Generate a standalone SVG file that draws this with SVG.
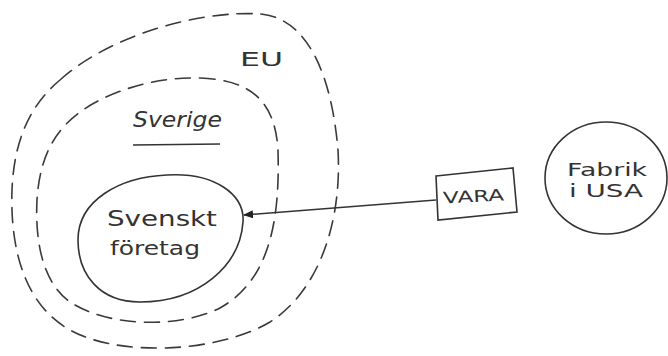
<svg xmlns="http://www.w3.org/2000/svg" width="668" height="356" viewBox="0 0 668 356">
  <style>
    .dash { fill: none; stroke: #3a3a3a; stroke-width: 1.6; stroke-dasharray: 15 9; stroke-linecap: round; }
    .solid { fill: none; stroke: #333; stroke-width: 1.6; }
    .hand { font-family: "DejaVu Sans", "Liberation Sans", sans-serif; fill: #333; }
    .conn { fill: none; stroke: #333; stroke-width: 1.5; }
  </style>
  <defs>
    <marker id="arrow" viewBox="0 0 10 8" refX="9" refY="4" markerWidth="10" markerHeight="8" markerUnits="userSpaceOnUse" orient="auto">
      <path d="M0,0 L10,4 L0,8 Z" fill="#222"/>
    </marker>
  </defs>
  <rect width="668" height="356" fill="#fff"/>

  <!-- EU boundary -->
  <g id="eu">
    <path class="dash" d="M60,80 C110,35 200,10 260,14 C310,18 332,80 338,150 C342,220 320,290 270,322 C220,352 120,358 70,330 C25,305 10,250 12,190 C14,140 30,105 60,80 Z"/>
    <text class="hand" x="240" y="66" font-size="19" textLength="43" lengthAdjust="spacingAndGlyphs">EU</text>
  </g>

  <!-- Sverige boundary -->
  <g id="sverige">
    <path class="dash" d="M200,78 C250,80 275,100 278,150 C280,220 270,280 220,308 C180,328 110,328 70,302 C42,282 35,240 37,200 C40,150 60,120 100,100 C130,85 165,77 200,78 Z"/>
    <text class="hand" x="133" y="127" font-size="22" font-style="italic" textLength="89" lengthAdjust="spacingAndGlyphs">Sverige</text>
    <path class="solid" d="M133,145 L220,144"/>
  </g>

  <!-- Swedish company -->
  <g id="foretag">
    <path class="solid" d="M167,175 C215,172 245,195 243,222 C240,265 200,302 140,302 C100,302 78,275 78,240 C78,200 120,177 167,175 Z"/>
    <text class="hand" x="107" y="226" font-size="22" textLength="110" lengthAdjust="spacingAndGlyphs">Svenskt</text>
    <text class="hand" x="110" y="255" font-size="19" textLength="90" lengthAdjust="spacingAndGlyphs">företag</text>
  </g>

  <!-- Goods -->
  <g id="vara">
    <path class="solid" d="M436,176 L513,168 L517,212 L438,220 Z"/>
    <text class="hand" x="443" y="202" font-size="16" textLength="61" lengthAdjust="spacingAndGlyphs" transform="rotate(-3 473 196)">VARA</text>
  </g>

  <!-- Factory in the USA -->
  <g id="fabrik">
    <ellipse class="solid" cx="606" cy="178" rx="61" ry="56"/>
    <text class="hand" x="567" y="176" font-size="17" textLength="80" lengthAdjust="spacingAndGlyphs">Fabrik</text>
    <text class="hand" x="569" y="197" font-size="17" textLength="74" lengthAdjust="spacingAndGlyphs">i USA</text>
  </g>

  <!-- Connectors -->
  <g id="connectors">
    <path class="conn" d="M436,200 L244,215" marker-end="url(#arrow)"/>
  </g>
</svg>
